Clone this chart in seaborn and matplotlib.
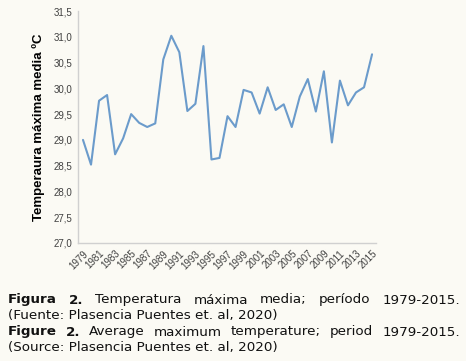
import matplotlib
matplotlib.use("Agg")
import matplotlib.pyplot as plt
import seaborn as sns
import pandas as pd

years = list(range(1979, 2016))
temps = [29.00, 28.52, 29.76, 29.87, 28.72, 29.03, 29.50, 29.33, 29.25, 29.32,
         30.56, 31.02, 30.70, 29.56, 29.70, 30.82, 28.62, 28.65, 29.46, 29.25,
         29.97, 29.92, 29.51, 30.02, 29.58, 29.69, 29.25, 29.84, 30.18, 29.55,
         30.33, 28.95, 30.15, 29.67, 29.92, 30.02, 30.66]
yticks = [27.0, 27.5, 28.0, 28.5, 29.0, 29.5, 30.0, 30.5, 31.0, 31.5]
ylabel = "Temperaura máxima media ºC"
caption_lines = [
    [("Figura 2.", True), ("Temperatura máxima media; período 1979-2015.", False)],
    [("(Fuente: Plasencia Puentes et. al, 2020)", False)],
    [("Figure 2.", True), ("Average maximum temperature; period 1979-2015.", False)],
    [("(Source: Plasencia Puentes et. al, 2020)", False)],
]

bg = "#fbfaf4"
sns.set_style("white")
plt.rcParams['font.family'] = ['Liberation Sans', 'DejaVu Sans']

fig = plt.figure(figsize=(4.66, 3.61), dpi=100, facecolor=bg)
ax = fig.add_axes([0.1674, 0.3269, 0.807 - 0.1674, 0.9695 - 0.3269])
ax.set_facecolor(bg)

df = pd.DataFrame({"idx": range(len(years)), "temp": temps})
sns.lineplot(data=df, x="idx", y="temp", ax=ax, color="#6b9bcb", linewidth=1.5)

ax.set_xlim(-0.62, 36.5)
ax.set_ylim(27.0, 31.5)
ax.set_yticks(yticks)
ax.set_yticklabels([f"{v:.1f}".replace(".", ",") for v in yticks], fontsize=7, color="#404040")
xt = list(range(0, len(years), 2))
ax.set_xticks(xt)
ax.set_xticklabels([str(years[i]) for i in xt], rotation=45, ha="right",
                   rotation_mode="anchor", fontsize=7, color="#404040")
ax.tick_params(axis="both", length=0, pad=4)
for s in ["top", "right"]:
    ax.spines[s].set_visible(False)
for s in ["left", "bottom"]:
    ax.spines[s].set_color("#d0d0d0")
    ax.spines[s].set_linewidth(1.0)
ax.set_xlabel("")
ax.set_ylabel(ylabel, fontsize=9.5, fontweight="bold", color="black", labelpad=6)

# caption (justified lines)
W, H = 466, 361
left_px, right_px = 8, 460
line_y = [300, 316, 332, 348]
justify = [True, False, True, False]
fam = ['DejaVu Sans']
fs = 9.7
fig.canvas.draw()
r = fig.canvas.get_renderer()
for (segs, yy, just) in zip(caption_lines, line_y, justify):
    if not just:
        txt = " ".join(t for t, _ in segs)
        fig.text(left_px / W, 1 - yy / H, txt, fontsize=fs, family=fam,
                 va="center", ha="left", color="#111111")
        continue
    words = []
    for txt, bold in segs:
        for w in txt.split(" "):
            words.append((w, bold))
    arts = [fig.text(0, 1 - yy / H, w, fontsize=fs, family=fam, color="#111111",
                     fontweight="bold" if b else "normal", va="center", ha="left")
            for w, b in words]
    widths = [a.get_window_extent(r).width for a in arts]
    gap = (right_px - left_px - sum(widths)) / (len(arts) - 1)
    x = left_px
    for a, w in zip(arts, widths):
        a.set_x(x / W)
        x += w + gap

fig.savefig("out.png", dpi=100, facecolor=bg)
